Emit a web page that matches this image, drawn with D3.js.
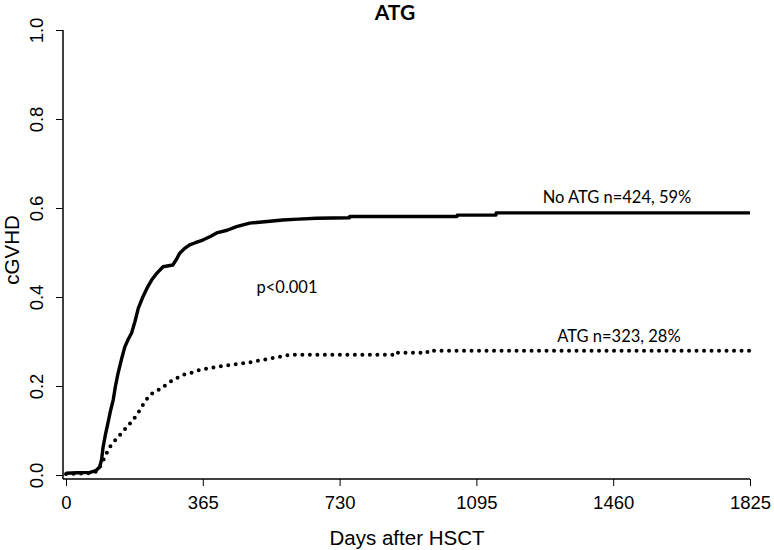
<!DOCTYPE html>
<html>
<head>
<meta charset="utf-8">
<script src="https://cdn.jsdelivr.net/npm/d3@7"></script>
<style>
  body { margin: 0; background: #fff; }
  text { fill: #000; }
</style>
</head>
<body>
<svg id="chart"></svg>
<script>
// cumulative incidence of cGVHD (day, value)
const noAtgDays = [0, 30, 64, 80, 90, 95, 99, 105, 112, 119, 126, 132, 139, 148, 157, 166, 175, 184, 193, 205, 218, 230, 242, 259, 285, 295, 303, 315, 330, 345, 365, 385, 402, 430, 455, 490, 530, 578, 620, 668, 756, 757, 1043, 1044, 1147, 1148, 1825];
const noAtgValues = [0.004, 0.005, 0.006, 0.01, 0.018, 0.035, 0.063, 0.09, 0.117, 0.145, 0.169, 0.2, 0.229, 0.26, 0.288, 0.305, 0.319, 0.345, 0.375, 0.4, 0.423, 0.44, 0.453, 0.468, 0.472, 0.485, 0.498, 0.508, 0.517, 0.522, 0.528, 0.536, 0.544, 0.55, 0.558, 0.566, 0.569, 0.573, 0.575, 0.577, 0.578, 0.581, 0.581, 0.584, 0.584, 0.589, 0.589];

const atgDays = [0, 72, 85, 90, 97, 104, 110, 117, 128, 139, 152, 165, 177, 189, 200, 210, 224, 240, 255, 270, 285, 312, 335, 357, 402, 482, 535, 597, 884, 885, 964, 965, 1825];
const atgValues = [0.002, 0.004, 0.01, 0.018, 0.03, 0.04, 0.052, 0.063, 0.075, 0.085, 0.098, 0.11, 0.122, 0.135, 0.15, 0.164, 0.18, 0.188, 0.195, 0.205, 0.213, 0.225, 0.23, 0.236, 0.243, 0.252, 0.26, 0.27, 0.27, 0.275, 0.275, 0.279, 0.279];

const xTicks = [0, 365, 730, 1095, 1460, 1825];
const yTicks = [0, 0.2, 0.4, 0.6, 0.8, 1.0];

const width = 774, height = 550;
const svg = d3.select("#chart").attr("width", width).attr("height", height);

const x = d3.scaleLinear().domain([0, 1825]).range([66, 750]);
const y = d3.scaleLinear().domain([0, 1]).range([475, 30]);

const axisFont = "'Liberation Sans', Arial, sans-serif";
const noteFont = "Lato, 'Open Sans', sans-serif";

// y axis
const yAxis = svg.append("g")
    .attr("transform", "translate(63,0)")
    .call(d3.axisLeft(y).tickValues(yTicks).tickFormat(d3.format(".1f")).tickSize(7).tickSizeOuter(0));
yAxis.select(".domain").attr("stroke", "#000").attr("stroke-width", 1.5)
    .attr("d", `M0,${y(1)}V479`);
yAxis.selectAll(".tick line").attr("stroke", "#000").attr("stroke-width", 1);
yAxis.selectAll(".tick text")
    .attr("font-family", axisFont).attr("font-size", 18.5)
    .attr("transform", "rotate(-90)")
    .attr("x", 0).attr("y", -26).attr("dy", "0.35em")
    .attr("text-anchor", "middle");

// x axis
const xAxis = svg.append("g")
    .attr("transform", "translate(0,479)")
    .call(d3.axisBottom(x).tickValues(xTicks).tickFormat(d3.format("d")).tickSize(7).tickSizeOuter(0));
xAxis.select(".domain").attr("stroke", "#000").attr("stroke-width", 1.5)
    .attr("d", `M63,0H${x(1825)}`);
xAxis.selectAll(".tick line").attr("stroke", "#000").attr("stroke-width", 1);
xAxis.selectAll(".tick text")
    .attr("font-family", axisFont).attr("font-size", 18.5)
    .attr("y", 17);

// axis titles
svg.append("text")
    .attr("x", 407).attr("y", 545)
    .attr("text-anchor", "middle")
    .attr("font-family", axisFont).attr("font-size", 20.5)
    .text("Days after HSCT");

svg.append("text")
    .attr("transform", "translate(19,250) rotate(-90)")
    .attr("text-anchor", "middle")
    .attr("font-family", axisFont).attr("font-size", 20.5)
    .text("cGVHD");

// title
svg.append("text")
    .attr("x", 395).attr("y", 20)
    .attr("text-anchor", "middle")
    .attr("font-family", noteFont).attr("font-weight", "bold").attr("font-size", 21)
    .text("ATG");

// curves
const line = d3.line()
    .x(d => x(d[0]))
    .y(d => y(d[1]));

svg.append("path")
    .datum(noAtgDays.map((d, i) => [d, noAtgValues[i]]))
    .attr("d", line)
    .attr("fill", "none")
    .attr("stroke", "#000")
    .attr("stroke-width", 3.4)
    .attr("stroke-linejoin", "round");

svg.append("path")
    .datum(atgDays.map((d, i) => [d, atgValues[i]]))
    .attr("d", line)
    .attr("fill", "none")
    .attr("stroke", "#000")
    .attr("stroke-width", 4)
    .attr("stroke-linecap", "round")
    .attr("stroke-dasharray", "0 7.5");

// annotations
svg.append("text")
    .attr("x", 617).attr("y", 203)
    .attr("text-anchor", "middle")
    .attr("font-family", noteFont).attr("font-size", 16.5)
    .text("No ATG n=424, 59%");

svg.append("text")
    .attr("x", 619).attr("y", 342)
    .attr("text-anchor", "middle")
    .attr("font-family", noteFont).attr("font-size", 16.5)
    .text("ATG n=323, 28%");

svg.append("text")
    .attr("x", 287).attr("y", 293)
    .attr("text-anchor", "middle")
    .attr("font-family", noteFont).attr("font-size", 16.5)
    .text("p<0.001");
</script>
</body>
</html>
